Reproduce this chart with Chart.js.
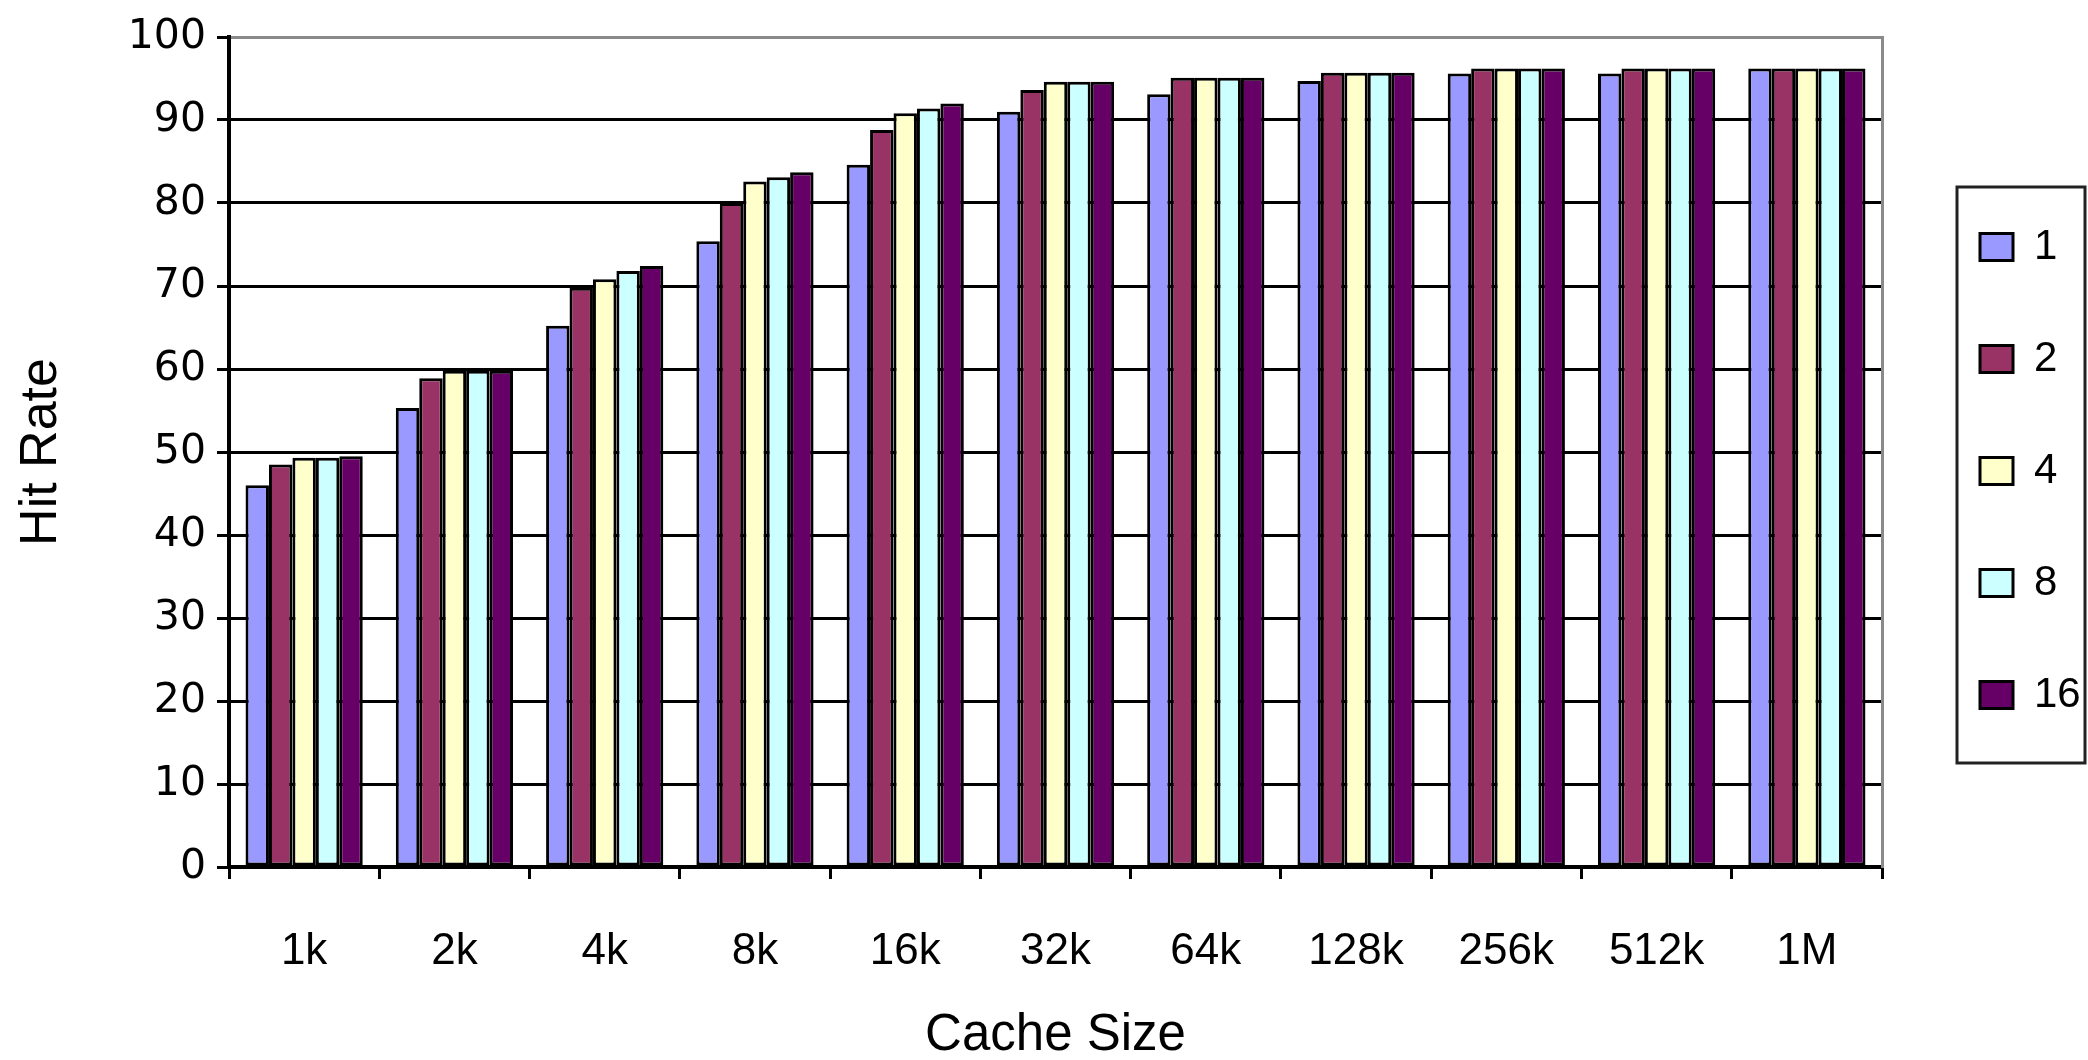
<!DOCTYPE html>
<html>
<head>
<meta charset="utf-8">
<script src="https://cdn.jsdelivr.net/npm/chart.js@4"></script>
<style>
  html, body { margin: 0; padding: 0; background: #ffffff; }
  #wrap { width: 2088px; height: 1060px; }
</style>
</head>
<body>
<div id="wrap"><canvas id="c" width="2088" height="1060"></canvas></div>
<script>
// Cache sizes on the x axis
const cacheSizes = ['1k', '2k', '4k', '8k', '16k', '32k', '64k', '128k', '256k', '512k', '1M'];

// Hit rate (%) for each associativity
const assoc1  = [46.0, 55.3, 65.2, 75.4, 84.6, 91.0, 93.1, 94.7, 95.6, 95.6, 96.2];
const assoc2  = [48.5, 58.9, 69.8, 80.0, 88.8, 93.6, 95.1, 95.7, 96.2, 96.2, 96.2];
const assoc4  = [49.3, 59.8, 70.8, 82.6, 90.8, 94.6, 95.1, 95.7, 96.2, 96.2, 96.2];
const assoc8  = [49.3, 59.8, 71.8, 83.1, 91.4, 94.6, 95.1, 95.7, 96.2, 96.2, 96.2];
const assoc16 = [49.5, 59.8, 72.4, 83.7, 92.0, 94.6, 95.1, 95.7, 96.2, 96.2, 96.2];

const seriesLabels = ['1', '2', '4', '8', '16'];
const seriesColors = ['#9999FF', '#993366', '#FFFFCC', '#CCFFFF', '#660066'];
const seriesValues = [assoc1, assoc2, assoc4, assoc8, assoc16];

const yTicks = [0, 10, 20, 30, 40, 50, 60, 70, 80, 90, 100];

const sansFont = "'Liberation Sans', Arial, sans-serif";

// Frame drawn around the legend entries
const legendFrame = {
  id: 'legendFrame',
  afterDraw(chart) {
    const lg = chart.legend;
    if (!lg || !lg.legendHitBoxes || !lg.legendHitBoxes.length) return;
    const boxes = lg.legendHitBoxes;
    const first = boxes[0], last = boxes[boxes.length - 1];
    const x0 = first.left - 23;
    const x1 = chart.width - 3;
    const y0 = first.top + first.height / 2 - 60;
    const y1 = last.top + last.height / 2 + 68;
    const ctx = chart.ctx;
    ctx.save();
    ctx.strokeStyle = '#222222';
    ctx.lineWidth = 3;
    ctx.strokeRect(x0, y0, x1 - x0, y1 - y0);
    ctx.restore();
  }
};

new Chart(document.getElementById('c'), {
  type: 'bar',
  data: {
    labels: cacheSizes,
    datasets: seriesLabels.map((lab, i) => ({
      label: lab,
      data: seriesValues[i],
      backgroundColor: seriesColors[i],
      borderColor: '#000000',
      borderWidth: 3,
      borderSkipped: false,
      categoryPercentage: 0.78,
      barPercentage: 1.0
    }))
  },
  options: {
    responsive: false,
    devicePixelRatio: 1,
    animation: false,
    layout: { padding: { top: 37, right: 0, bottom: 0, left: 0 } },
    plugins: {
      tooltip: { enabled: false },
      legend: {
        position: 'right',
        align: 'start',
        maxWidth: 178,
        title: { display: true, text: '', font: { size: 10 }, padding: { top: 0, bottom: 107 } },
        labels: {
          boxWidth: 33,
          boxHeight: 27,
          padding: 70,
          color: '#000000',
          font: { family: sansFont, size: 42 }
        }
      }
    },
    scales: {
      x: {
        offset: true,
        afterFit: (scale) => { scale.height = 193; },
        grid: {
          offset: true,
          drawOnChartArea: false,
          drawTicks: true,
          tickLength: 12,
          color: '#000000',
          lineWidth: 3
        },
        border: { display: true, color: '#000000', width: 4 },
        ticks: {
          color: '#000000',
          padding: 46,
          maxRotation: 0,
          autoSkip: false,
          font: { family: sansFont, size: 44 }
        },
        title: {
          display: true,
          text: 'Cache Size',
          color: '#000000',
          font: { family: sansFont, size: 51, lineHeight: 0.95 },
          padding: { top: 10, bottom: 0 }
        }
      },
      y: {
        min: 0,
        max: 100,
        afterBuildTicks: (scale) => { scale.ticks = yTicks.map(v => ({ value: v })); },
        afterFit: (scale) => { scale.width = 229; },
        grid: {
          color: (ctx) => (ctx.tick && ctx.tick.value === 100 ? '#8a8a8a' : '#000000'),
          tickColor: '#000000',
          lineWidth: 3,
          tickLength: 12
        },
        border: { display: true, color: '#000000', width: 4 },
        ticks: {
          color: '#000000',
          padding: 11,
          font: { family: "'DejaVu Sans', sans-serif", size: 41 }
        },
        title: {
          display: true,
          text: 'Hit Rate',
          color: '#000000',
          font: { family: sansFont, size: 52 },
          padding: { top: 10, bottom: 0 }
        }
      },
      yRight: {
        type: 'linear',
        position: 'right',
        display: true,
        afterFit: (scale) => { scale.width = 28; },
        grid: { display: false },
        ticks: { display: false },
        border: { display: true, color: '#8a8a8a', width: 3 }
      }
    }
  },
  plugins: [legendFrame]
});
</script>
</body>
</html>
